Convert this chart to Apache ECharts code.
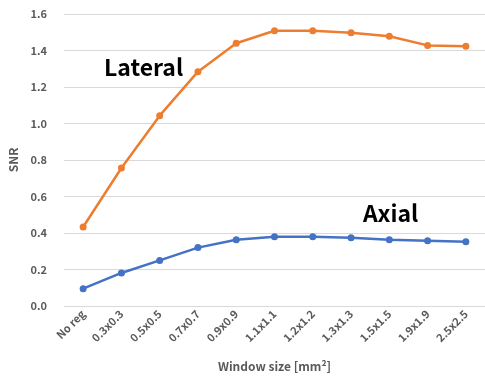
<!DOCTYPE html>
<html>
<head>
<meta charset="utf-8">
<script src="https://cdn.jsdelivr.net/npm/echarts@6/dist/echarts.min.js"></script>
<style>
  html, body { margin: 0; padding: 0; background: #fff; }
  #chart { width: 485px; height: 376px; }
</style>
</head>
<body>
<div id="chart"></div>
<script>
  // window sizes
  const categories = ["No reg", "0.3x0.3", "0.5x0.5", "0.7x0.7", "0.9x0.9", "1.1x1.1", "1.2x1.2", "1.3x1.3", "1.5x1.5", "1.9x1.9", "2.5x2.5"]
  const lateral = [0.433, 0.756, 1.043, 1.284, 1.44, 1.508, 1.508, 1.497, 1.478, 1.428, 1.423]
  const axial = [0.095, 0.181, 0.25, 0.32, 0.363, 0.38, 0.38, 0.374, 0.363, 0.358, 0.352]

  const font = "'Noto Sans CJK JP', 'Noto Sans', sans-serif"
  const gray = "#595959"

  const chart = echarts.init(document.getElementById("chart"))

  chart.setOption({
    animation: false,
    grid: { left: 64, right: 0, top: 14, bottom: 70, outerBoundsMode: "none", containLabel: false },
    xAxis: {
      type: "category",
      data: categories,
      boundaryGap: true,
      axisLine: { show: false },
      axisTick: { show: false },
      axisLabel: { rotate: 45, color: gray, fontSize: 11, fontWeight: "bold", fontFamily: font, margin: 6, interval: 0 },
      name: "Window size [mm²]",
      nameLocation: "middle",
      nameGap: 54,
      nameTextStyle: { color: gray, fontSize: 12, fontWeight: "bold", fontFamily: font },
    },
    yAxis: {
      type: "value",
      min: 0,
      max: 1.6,
      interval: 0.2,
      axisLine: { show: false },
      axisTick: { show: false },
      splitLine: { lineStyle: { color: "#d9d9d9", width: 1 } },
      axisLabel: { color: gray, fontSize: 11, fontWeight: "bold", fontFamily: font, margin: 17, formatter: (v) => v.toFixed(1) },
      name: "SNR",
      nameLocation: "middle",
      nameRotate: 90,
      nameGap: 37,
      nameTextStyle: { color: gray, fontSize: 12, fontWeight: "bold", fontFamily: font },
    },
    series: [
      {
        name: "Lateral",
        type: "line",
        data: lateral,
        symbol: "circle",
        symbolSize: 7,
        itemStyle: { color: "#ED7D31" },
        lineStyle: { color: "#ED7D31", width: 2.5 },
      },
      {
        name: "Axial",
        type: "line",
        data: axial,
        symbol: "circle",
        symbolSize: 7,
        itemStyle: { color: "#4472C4" },
        lineStyle: { color: "#4472C4", width: 2.5 },
      },
    ],
    graphic: [
      { type: "text", left: 104, top: 56, style: { text: "Lateral", fill: "#000", font: "bold 23px " + font } },
      { type: "text", left: 363, top: 202, style: { text: "Axial", fill: "#000", font: "bold 23px " + font } },
    ],
  })
</script>
</body>
</html>
